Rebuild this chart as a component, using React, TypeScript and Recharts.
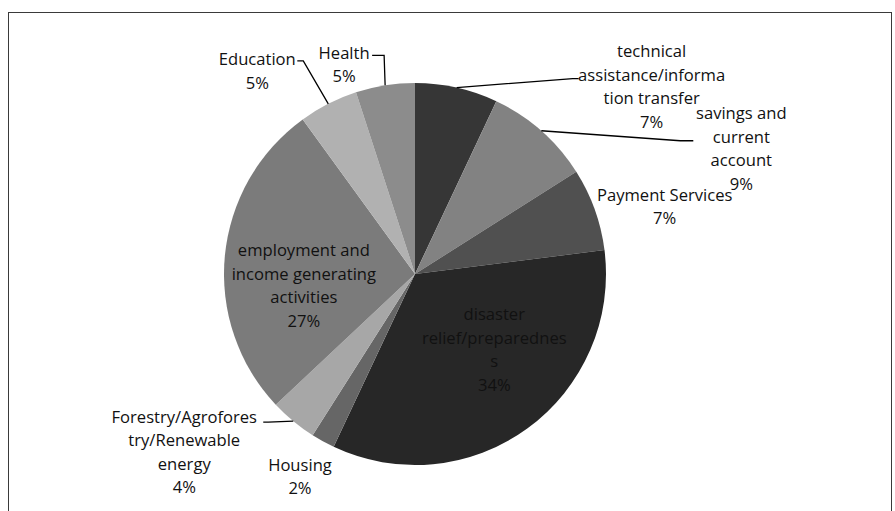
import React from 'react';
import { PieChart, Pie, Cell } from 'recharts';

// Categories in drawing order, clockwise from 12 o'clock
const categories = [
  'technical assistance/information transfer',
  'savings and current account',
  'Payment Services',
  'disaster relief/preparedness',
  'Housing',
  'Forestry/Agroforestry/Renewable energy',
  'employment and income generating activities',
  'Education',
  'Health',
];

// Share of each category (%)
const shares = [7, 9, 7, 34, 2, 4, 27, 5, 5];

// Label text as it wraps in the original
const labelLines = [
  ['technical', 'assistance/informa', 'tion transfer'],
  ['savings and', 'current', 'account'],
  ['Payment Services'],
  ['disaster', 'relief/preparednes', 's'],
  ['Housing'],
  ['Forestry/Agrofores', 'try/Renewable', 'energy'],
  ['employment and', 'income generating', 'activities'],
  ['Education'],
  ['Health'],
];

const sliceColors = [
  '#363636', '#828282', '#505050', '#272727', '#666666',
  '#a7a7a7', '#7b7b7b', '#b1b1b1', '#8c8c8c',
];

// label placement relative to the slice's outer edge point (layout only)
const labelLayout = [
  { dx: 195, dy: -2, lead: { x: -73, y: -7, h: 6 } },
  { dx: 200, dy: 17, lead: { x: -48, y: -7, h: 13 } },
  { dx: 70, dy: -4 },
  { dx: -33, dy: -80 },
  { dx: -23, dy: 34 },
  { dx: -109, dy: 30, lead: { x: 79, y: -29, h: 5 } },
  { dx: 79, dy: 28.5 },
  { dx: -71, dy: -34, lead: { x: 40, y: -9, h: 6 } },
  { dx: -41, dy: -22, lead: { x: 28, y: -8, h: 12 } },
] as { dx: number; dy: number; lead?: { x: number; y: number; h: number } }[];

const data = categories.map((name, i) => ({ name, value: shares[i] }));
const total = shares.reduce((a, b) => a + b, 0);

const RAD = Math.PI / 180;
const LINE_H = 23.5;

const renderLabel = (props: any) => {
  const { cx, cy, midAngle, outerRadius, index } = props;
  const ex = cx + outerRadius * Math.cos(midAngle * RAD);
  const ey = cy - outerRadius * Math.sin(midAngle * RAD);
  const layout = labelLayout[index];
  const lx = ex + layout.dx;
  const ly = ey + layout.dy;
  const lines = [...labelLines[index], `${Math.round((shares[index] / total) * 100)}%`];
  const y0 = ly - ((lines.length - 1) / 2) * LINE_H;

  let leader = null;
  if (layout.lead) {
    const tx = lx + layout.lead.x;
    const ty = ly + layout.lead.y;
    const sign = ex > tx ? 1 : -1;
    const bx = tx + sign * layout.lead.h;
    leader = (
      <polyline
        points={`${ex},${ey} ${bx},${ty} ${tx},${ty}`}
        fill="none"
        stroke="#000"
        strokeWidth={1.3}
      />
    );
  }

  return (
    <g key={`lbl-${index}`}>
      {leader}
      <text
        x={lx}
        y={y0}
        textAnchor="middle"
        dominantBaseline="central"
        fill="#111"
        fontSize={16.6}
        fontFamily="'Open Sans', sans-serif"
      >
        {lines.map((t, i) => (
          <tspan key={i} x={lx} y={y0 + i * LINE_H}>
            {t}
          </tspan>
        ))}
      </text>
    </g>
  );
};

const App = () => {
  return (
    <div style={{ position: 'absolute', left: 0, top: 0, width: 895, height: 511, overflow: 'hidden', background: '#fff' }}>
      <div
        style={{
          position: 'absolute',
          left: 8,
          top: 12,
          width: 884,
          height: 520,
          border: '1.5px solid #3a3a3a',
          boxSizing: 'border-box',
        }}
      />
      <div style={{ position: 'absolute', left: 0, top: 0 }}>
        <PieChart width={895} height={511} margin={{ top: 0, right: 0, bottom: 0, left: 0 }}>
          <Pie
            data={data}
            dataKey="value"
            nameKey="name"
            cx={415}
            cy={274}
            outerRadius={191}
            startAngle={90}
            endAngle={-270}
            stroke="none"
            label={renderLabel}
            labelLine={false}
            isAnimationActive={false}
          >
            {data.map((d, i) => (
              <Cell key={d.name} fill={sliceColors[i]} />
            ))}
          </Pie>
        </PieChart>
      </div>
    </div>
  );
};

export default App;
